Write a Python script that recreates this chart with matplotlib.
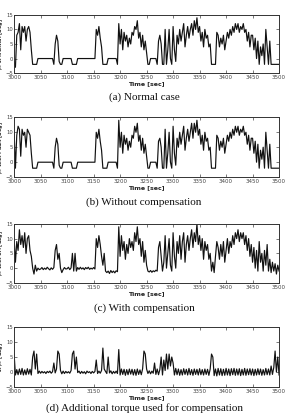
import numpy as np
import matplotlib
matplotlib.use('Agg')
import matplotlib.pyplot as plt

# beta_2 values, one value every 2.5 s (3000 .. 3500 s)
beta_normal = [
    -1, -3, 8, 9, 12, 3, 11, 9, 11, 6, 10, 11, 9, 3, -2, -2, -2, -2, 0, 0,
    0, 0, 0, 0, 0, 0, 0, 0, 0, 0, -2, 5, 8, 6, -1, -2, -2, 0, 0, 0,
    0, 0, 0, 0, -2, -2, -2, -2, 0, 0, 0, 0, 0, 0, 0, 0, 0, 0, 0, 0,
    0, 0, 10, 8, 11, 7, 4, -2, -2, -2, -2, 0, 0, 0, 0, 0, 0, 0, -2, 12,
    5, 10, 3, 9, 6, 8, 4, 7, 5, 9, 8, 11, 10, 13, 7, 9, 4, 8, 3, 6,
    2, -2, -2, 0, 0, 0, 0, 0, -2, 6, 8, 5, -2, -2, 10, -2, 3, 10, 0, -2,
    11, 3, -1, 8, 5, 10, 6, 9, 12, 4, 8, 11, 7, 10, 12, 8, 13, 10, 14, 9,
    11, 6, 9, 4, 10, 7, 8, 4, 5, -2, -2, -2, -2, 9, 8, 4, 7, 5, 8, 3,
    6, 9, 7, 10, 8, 11, 9, 12, 10, 12, 9, 11, 10, 12, 9, 10, 6, 9, 4, 8,
    8, 3, 7, 0, 6, -2, 4, 1, 5, -2, 10, 4, -2, 6, -2, -2, -2, -2, -2, -2,
    -2]

beta_fault = [
    10, -2, 9, 12, 11, 2, 11, 9, 10, 5, 11, 10, 9, 3, -2, -2, -2, -2, 0, 0,
    0, 0, 0, 0, 0, 0, 0, 0, 0, 0, -2, 5, 8, 6, -1, -2, -2, 0, 0, 0,
    0, 0, 0, 0, -2, -2, -2, -2, 0, 0, 0, 0, 0, 0, 0, 0, 0, 0, 0, 0,
    0, 0, 10, 8, 11, 7, 4, -2, -2, -2, -2, 0, 0, 0, 0, 0, 0, 0, -2, 14,
    5, 10, 3, 9, 6, 8, 4, 7, 5, 9, 8, 12, 10, 13, 7, 9, 4, 8, 3, 6,
    2, -2, -2, 0, 0, 0, 0, 0, -2, 7, 8, 5, -2, -2, 11, -2, 3, 10, 0, -2,
    12, 3, -1, 8, 5, 10, 6, 9, 12, 4, 8, 11, 7, 10, 13, 8, 13, 10, 14, 9,
    11, 6, 9, 4, 10, 7, 8, 4, 5, -2, -2, -2, -2, 9, 8, 4, 7, 5, 8, 3,
    6, 9, 7, 10, 8, 11, 9, 12, 10, 12, 9, 11, 10, 12, 9, 10, 6, 9, 4, 8,
    8, 3, 7, 0, 6, -2, 4, 1, 5, -2, 10, 4, -2, 6, -2, -2, -2, -2, -2, -2,
    -2]

beta_ca = [
    10, 2, 9, 6, 13, 8, 11, 7, 12, 5, 10, 11, 6, 4, 0, -2, 1, -1, 0, -0.5,
    -0.3, 0.2, -0.5, 0, -0.4, 0.3, -0.2, -0.6, 0.1, -0.4, 0.2, 6, 8, 3, 5, 0, -1.5, -0.5, 0.2, -0.3,
    -0.2, 0.3, -0.5, 0.1, 5, -1, 5, -1, 0.2, -0.4, 0.3, -0.3, 0.1, -0.5, 0.2, -0.2, 0.3, -0.4, 0, -0.3,
    0.2, -0.3, 10, 7, 11, 8, 4, 1, 5, -1, -1.5, -1, -1.8, -0.8, -1.5, -1, -1.6, -0.9, -1.2, 14,
    4, 11, 6, 9, 3, 8, 5, 10, 7, 9, 6, 12, 9, 14, 8, 10, 4, 9, 2, 6,
    1, -1, -1.3, -0.8, -1.4, -0.9, -1.2, -0.7, -1, 7, 9, 4, -1, 2, 11, 0, 5, 10, 1, -1,
    12, 4, 0, 9, 5, 11, 3, 9, 12, 2, 8, 11, 6, 10, 13, 7, 12, 9, 15, 8,
    11, 6, 10, 3, 9, 6, 8, 3, 5, -1, 2, -1.5, 4, 9, 7, 3, 8, 4, 9, 2,
    6, 10, 5, 9, 7, 11, 8, 12, 10, 13, 9, 12, 10, 12, 8, 11, 6, 10, 4, 8,
    2, 7, 0, 6, -1, 9, 2, 5, -1, 6, 1, 8, -1, 3, -1.5, 2, -1, 1.5, -2, 1,
    -1]

comp_angle = [
    6, -1, 0.8, -0.9, 1, -0.8, 1.2, -1, 0.7, -0.9, 1.1, -0.7, 0.9, -1, 5, 7, 1, 6, -0.5, 0.3,
    -0.4, 0.2, -0.3, 0.1, -0.5, 0.2, -0.2, 0.3, -0.4, 0.1, 3, -0.3, 1, 7, 6, 0.5, -0.6, 0.3, -0.5, 0.2,
    -0.3, 0.1, -0.4, 0.5, 6, 7, 1, 5, -0.2, 0.3, -0.5, 0.2, -0.4, 0.1, -0.6, 0.3, -0.2, 0.1, -0.5, 0.2,
    -0.3, 0.2, 4, -0.5, 0.3, -0.4, 0.5, 8, 1, 0.2, -0.5, 5, -0.3, 0.4, -0.6, 0.2, -0.4, 0.3, -0.5, 7.5,
    -1, 1, -0.8, 0.9, -1.1, 0.8, -0.9, 1, -0.7, 0.9, -1, 0.8, -1.1, 1, -0.8, 0.7, -0.9, 1.1, 7, 6,
    1, -0.5, 0.4, -0.6, 0.3, -0.4, 3, -0.8, 1, -0.9, 0.8, 5, -1, 4, 0.5, 6, 1, 6, 2, 5,
    3, -1, 1.2, -0.9, 1, -1.1, 0.8, -1, 1.1, -0.8, 0.9, -1, 1.2, -0.9, 0.8, -1.1, 1, -0.8, 0.9, -1,
    1.1, -0.9, 0.8, -1, 1, -0.8, 0.9, -1.1, 1, 6, 5, -1.2, 1, -1.3, 1.2, -1, 1.1, -1.2, 0.9, -1.1,
    1.2, -1, 1, -1.2, 1.1, -0.9, 1.2, -1.1, 1, -1, 1.1, -1.2, 0.9, -1, 1.2, -1.1, 1, -0.9, 1.1, -1,
    1, -1.2, 0.9, -1, 1.1, -0.9, 1, -1.1, 0.8, -1, 1.2, -0.9, 1, -1, 2, -0.8, 1.5, 7, 0, 5,
    -1]

panel_ylabels = [r'$\beta_2$ in Normal [deg]', r'$\beta_2$ with Fault [deg]',
                 r'$\beta_2$ with CA [deg]', 'Compensated angle\n' + r'in $\beta_2$ [deg]']
panel_captions = ['(a) Normal case', '(b) Without compensation',
                  '(c) With compensation', '(d) Additional torque used for compensation']
x_ticks = list(range(3000, 3501, 50))
y_ticks = [-5, 0, 5, 10, 15]

fig = plt.figure(figsize=(2.88, 4.13), dpi=100)
plt.rcParams['mathtext.fontset'] = 'dejavusans'

# axes boxes [left, bottom, width, height] measured in the picture
boxes = [[0.049, 0.823, 0.920, 0.141],
         [0.049, 0.571, 0.920, 0.145],
         [0.049, 0.315, 0.920, 0.143],
         [0.049, 0.063, 0.920, 0.145]]
caption_y = [0.765, 0.511, 0.254, 0.011]

for data, box, ylab, cap, cy in zip([beta_normal, beta_fault, beta_ca, comp_angle],
                                    boxes, panel_ylabels, panel_captions, caption_y):
    ax = fig.add_axes(box)
    t = np.linspace(3000, 3500, len(data))
    ax.plot(t, data, color='#111111', lw=0.85)
    ax.set_xlim(3000, 3500)
    ax.set_ylim(-5, 15)
    ax.set_xticks(x_ticks)
    ax.set_yticks(y_ticks)
    ax.tick_params(direction='in', length=2, width=0.5, labelsize=4.0,
                   pad=1.2, colors='#444444', top=True, right=True)
    ax.tick_params(axis='y', labelsize=3.8, pad=0.7)
    for s in ax.spines.values():
        s.set_linewidth(0.7)
        s.set_color('#333333')
    ax.set_xlabel('Time [sec]', fontsize=4.5, fontweight='bold', labelpad=1.2,
                  color='#222222')
    ax.set_ylabel(ylab, fontsize=3.5, fontweight='bold', linespacing=0.85,
                  color='#333333')
    ax.yaxis.set_label_coords(-0.036, 0.5)
    fig.text(0.5, cy, cap, ha='center', va='center', fontsize=8,
             family='Liberation Serif', color='#111111')

plt.savefig('out.png', dpi=100)
